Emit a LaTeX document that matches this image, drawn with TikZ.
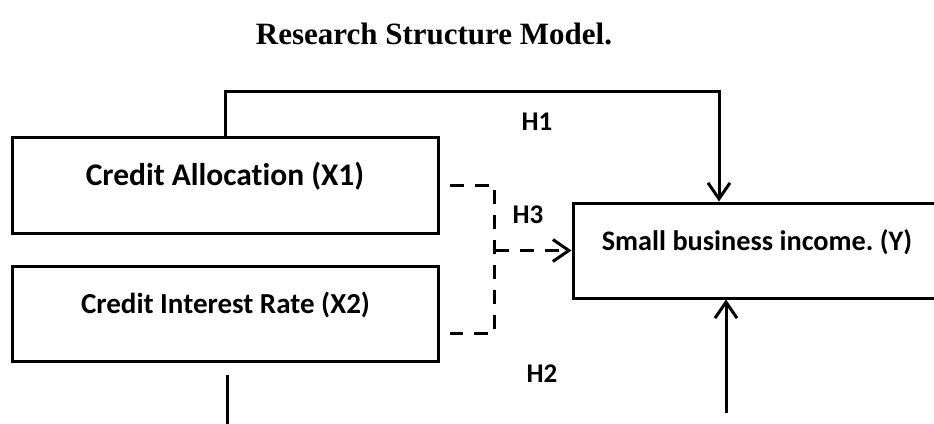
\documentclass[tikz,border=0pt]{standalone}
\usepackage{fontspec}
\setmainfont{Carlito}[Ligatures=NoCommon]
\newfontfamily\titlefont{Liberation Serif}
\usetikzlibrary{arrows.meta}
\frenchspacing

\begin{document}
\begin{tikzpicture}[x=1pt,y=-1pt,line width=3pt,
    varbox/.style={draw,rectangle,inner sep=0pt,minimum width=426pt,minimum height=96pt},
    boxtext/.style={anchor=base,font=\bfseries\fontsize{#1}{#1}\selectfont},
    hyp/.style={font=\bfseries\fontsize{27}{30}\selectfont},
    arr/.style={-{Straight Barb[length=16pt,width=22pt]}},
    dashline/.style={dash pattern=on 14pt off 11pt}]
    \useasboundingbox (0,0) rectangle (934,423);
    \clip (0,0) rectangle (934,423);
    % title
    \node[anchor=base,font=\titlefont\bfseries\fontsize{31}{34}\selectfont] (title) at (434,44) {Research Structure Model.};
    % variables
    \node[varbox] (x1) at (225,185) {};
    \node[varbox,minimum height=95pt] (x2) at (225.5,313.5) {};
    \node[varbox,minimum width=368pt,minimum height=95pt] (y) at (757,250.5) {};
    \node[boxtext=31.5] (x1t) at (x1.center) {Credit Allocation (X1)};
    \node[boxtext=29] (x2t) at (x2.center) {Credit Interest Rate (X2)};
    \node[boxtext=28.3] (yt) at (y.center) {Small business income. (Y)};
    % hypotheses
    \node[hyp] (h1) at (537,122) {H1};
    \node[hyp] (h3) at (528,215) {H3};
    \node[hyp] (h2) at (542,374) {H2};
    % H1
    \coordinate (h1top) at (0,91);
    \draw[arr] (x1.north) -- (x1.north |- h1top) -| ([xshift=-38pt]y.north);
    % H3
    \coordinate (h3top) at ([xshift=55pt]x1.east);
    \coordinate (h3bot) at ([shift={(10pt,-20pt)}]x2.east);
    \draw[dashline] ([xshift=10pt]x1.east) -- (h3top) -- (h3top |- h3bot) -- (h3bot);
    \draw[dashline,arr] (h3top |- y.west) -- (y.west);
    % H2
    \coordinate (h2l) at (227,375);
    \coordinate (h2end) at (227,430);
    \draw (h2l) -- (h2end);
    \coordinate (h2r) at (726,413);
    \draw[arr] (h2r) -- (h2r |- y.south);
\end{tikzpicture}
\end{document}
